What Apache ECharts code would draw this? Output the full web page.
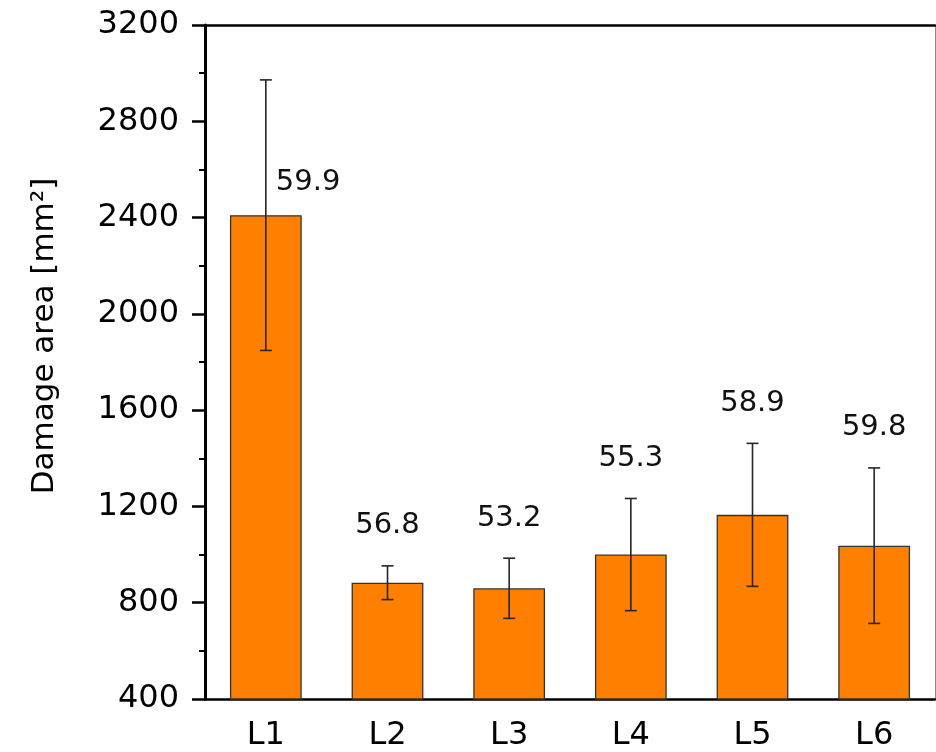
<!DOCTYPE html>
<html>
<head>
<meta charset="utf-8">
<script src="https://cdn.jsdelivr.net/npm/echarts@6/dist/echarts.min.js"></script>
<style>
  html, body { margin: 0; padding: 0; background: #fff; }
  #chart { width: 936px; height: 752px; }
</style>
</head>
<body>
<div id="chart"></div>
<script>
// Layers and their mean damage area with standard deviation
const categories = ['L1', 'L2', 'L3', 'L4', 'L5', 'L6'];
const meanArea = [2410, 883, 860, 1000, 1165, 1037];
const stdArea = [562, 70, 125, 233, 297, 323];
const annotations = ['59.9', '56.8', '53.2', '55.3', '58.9', '59.8'];
const yTicks = { min: 400, max: 3200, interval: 400 };

const FONT = 'DejaVu Sans';

// [index, mean, low, high, annotation]
const errData = categories.map((c, i) => [i, meanArea[i], meanArea[i] - stdArea[i], meanArea[i] + stdArea[i], annotations[i]]);

// Annotation that sits beside the whisker instead of above it (tall whisker)
const besideWhisker = new Set([0]);

function renderError(params, api) {
  const i = api.value(0);
  const top = api.coord([i, api.value(3)]);
  const bot = api.coord([i, api.value(2)]);
  const mid = api.coord([i, api.value(1)]);
  const cap = 6;
  const style = { stroke: '#262626', lineWidth: 1.6 };
  const children = [
    { type: 'line', shape: { x1: top[0], y1: top[1], x2: bot[0], y2: bot[1] }, style },
    { type: 'line', shape: { x1: top[0] - cap, y1: top[1], x2: top[0] + cap, y2: top[1] }, style },
    { type: 'line', shape: { x1: bot[0] - cap, y1: bot[1], x2: bot[0] + cap, y2: bot[1] }, style }
  ];
  const txt = String(api.value(4));
  const textStyle = { text: txt, fontFamily: FONT, fontSize: 29, fill: '#111', verticalAlign: 'middle' };
  if (besideWhisker.has(params.dataIndex)) {
    children.push({ type: 'text', x: mid[0] + 10, y: mid[1] - 33, style: Object.assign({ align: 'left' }, textStyle) });
  } else {
    children.push({ type: 'text', x: top[0], y: top[1] - 40, style: Object.assign({ align: 'center' }, textStyle) });
  }
  return { type: 'group', children };
}

const chart = echarts.init(document.getElementById('chart'), null, { renderer: 'canvas' });
chart.setOption({
  animation: false,
  backgroundColor: '#fff',
  grid: { left: 205, top: 25, right: 1, bottom: 53, containLabel: false },
  xAxis: [{
    type: 'category',
    data: categories,
    position: 'bottom',
    axisLine: { lineStyle: { color: '#000', width: 2.5 } },
    axisTick: { alignWithLabel: true, length: 13, lineStyle: { color: '#000', width: 2.5 } },
    axisLabel: { fontFamily: FONT, fontSize: 32, color: '#000', margin: 21 },
    splitLine: { show: false }
  }, {
    type: 'category',
    data: categories,
    position: 'top',
    axisLine: { lineStyle: { color: '#000', width: 2.5 } },
    axisTick: { show: false },
    axisLabel: { show: false }
  }],
  yAxis: [{
    type: 'value',
    min: yTicks.min, max: yTicks.max, interval: yTicks.interval,
    position: 'left',
    name: 'Damage area [mm\u00B2]',
    nameLocation: 'middle',
    nameGap: 145,
    nameTextStyle: { fontFamily: FONT, fontSize: 31, color: '#000', padding: [0, 0, 0, 52] },
    axisLine: { show: true, lineStyle: { color: '#000', width: 3 } },
    axisTick: { show: true, length: 13, lineStyle: { color: '#000', width: 2.5 } },
    minorTick: { show: true, splitNumber: 2, length: 6, lineStyle: { color: '#000', width: 2 } },
    axisLabel: { fontFamily: FONT, fontSize: 32, color: '#000', margin: 26, formatter: v => String(v) },
    splitLine: { show: false }
  }, {
    type: 'value',
    min: yTicks.min, max: yTicks.max, interval: yTicks.interval,
    position: 'right',
    axisLine: { show: true, lineStyle: { color: '#8a8a8a', width: 1 } },
    axisTick: { show: false },
    axisLabel: { show: false },
    splitLine: { show: false }
  }],
  series: [{
    type: 'bar',
    data: meanArea,
    barWidth: '59%',
    itemStyle: { color: '#FF8000', borderColor: '#333', borderWidth: 1.3 },
    z: 2
  }, {
    type: 'custom',
    data: errData,
    renderItem: renderError,
    encode: { x: 0, y: [1, 2, 3] },
    z: 5
  }]
});
</script>
</body>
</html>
